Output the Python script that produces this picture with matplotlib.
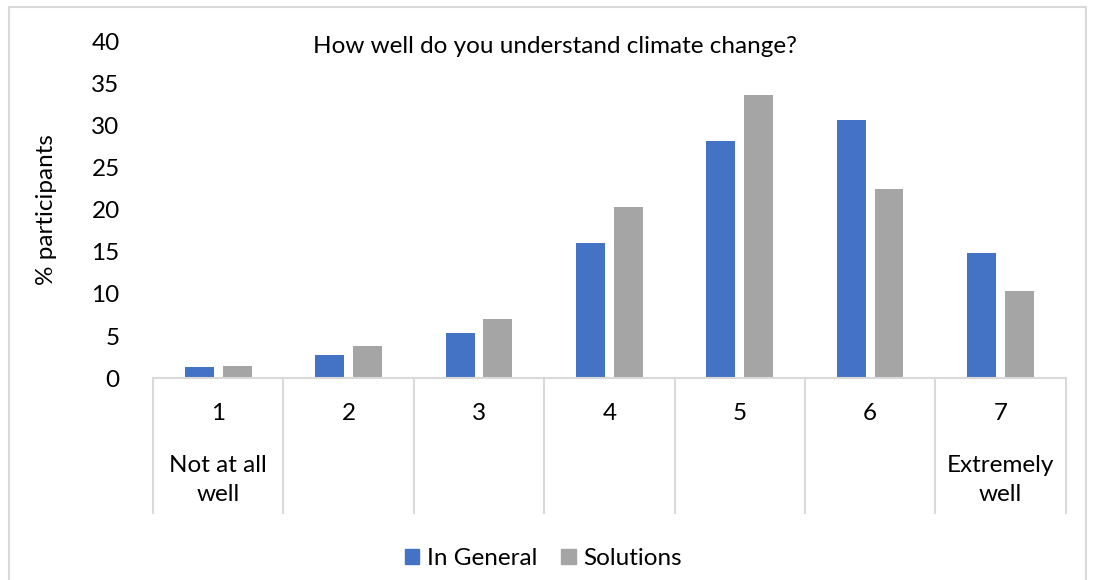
import numpy as np
import matplotlib
matplotlib.use("Agg")
import matplotlib.pyplot as plt
from matplotlib.patches import Rectangle, Patch

plt.rcParams['font.family'] = ['Lato', 'DejaVu Sans']

#####################       DATA         ##########################
categories = ['1', '2', '3', '4', '5', '6', '7']
sublabels = ['Not at all\nwell', '', '', '', '', '', 'Extremely\nwell']
in_general = [1.3, 2.7, 5.4, 16.0, 28.1, 30.7, 14.9]
solutions = [1.5, 3.8, 7.0, 20.3, 33.6, 22.5, 10.4]
yticks = [0, 5, 10, 15, 20, 25, 30, 35, 40]

#####################       PLOT         ##########################
fig = plt.figure(figsize=(10.93, 5.80), dpi=100)
ax = fig.add_axes([0.140, 0.348, 0.835, 0.581])

x = np.arange(len(categories))
w = 0.222
ax.bar(x - 0.145, in_general, w, color='#4472C4', label='In General')
ax.bar(x + 0.145, solutions, w, color='#A5A5A5', label='Solutions')

ax.set_xlim(-0.5, len(categories) - 0.5)
ax.set_ylim(0, 40)
ax.set_yticks(yticks)
ax.set_yticklabels([str(t) for t in yticks], fontsize=17.5)
ax.tick_params(axis='y', length=0, pad=24)
ax.set_xticks([])
for s in ['left', 'right', 'top']:
    ax.spines[s].set_visible(False)
ax.spines['bottom'].set_color('#D9D9D9')
ax.spines['bottom'].set_linewidth(1.5)

# multi-level category boxes
trans = ax.get_xaxis_transform()
for b in np.arange(-0.5, len(categories), 1.0):
    ax.plot([b, b], [0, -0.40], color='#D9D9D9', lw=1.5, transform=trans, clip_on=False)
for i, (c, s) in enumerate(zip(categories, sublabels)):
    ax.text(i, -0.105, c, ha='center', va='center', fontsize=17.5, transform=trans)
    if s:
        ax.text(i, -0.302, s, ha='center', va='center', fontsize=17.5,
                linespacing=1.45, transform=trans)

ax.set_ylabel('% participants', fontsize=17.5)
ax.yaxis.set_label_coords(-0.105, 0.5)
fig.text(0.508, 0.919, 'How well do you understand climate change?',
         ha='center', va='center', fontsize=17.5)

handles = [Patch(color='#4472C4', label='In General'), Patch(color='#A5A5A5', label='Solutions')]
fig.legend(handles=handles, loc='center', bbox_to_anchor=(0.497, 0.037), ncol=2,
           frameon=False, fontsize=17.5, handlelength=0.6, handleheight=0.6,
           handletextpad=0.3, columnspacing=1.0)

# chart border
fig.patches.append(Rectangle((9 / 1093, -0.01), 1077 / 1093, 1 - 7 / 580 + 0.01,
                             transform=fig.transFigure, fill=False,
                             edgecolor='#D9D9D9', lw=1.5))

fig.savefig('out.png', dpi=100)
